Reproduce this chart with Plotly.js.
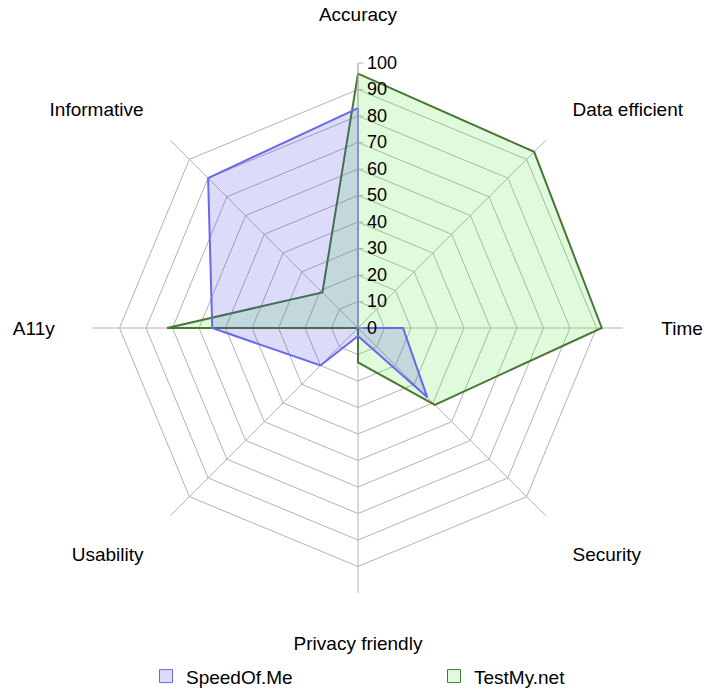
<!DOCTYPE html>
<html>
<head>
<meta charset="utf-8">
<script src="https://cdn.plot.ly/plotly-3.0.1.min.js"></script>
<style>html,body{margin:0;padding:0;background:#fff;}#chart{width:720px;height:695px;}</style>
</head>
<body>
<div id="chart"></div>
<script>
const categories = ["Accuracy", "Data efficient", "Time", "Security", "Privacy friendly", "Usability", "A11y", "Informative"];
const speedOfMe = [83, 0, 17, 37, 3, 20, 55, 80];
const testMyNet = [96, 94, 92, 41, 13, 0, 72, 19];
const seriesNames = ["SpeedOf.Me", "TestMy.net"];
const radialTicks = [0, 10, 20, 30, 40, 50, 60, 70, 80, 90, 100];

const close = a => a.concat([a[0]]);
const cats = close(categories);

const blueLine = "rgb(104,104,236)", blueFill = "rgba(60,60,230,0.18)";
const greenLine = "rgb(74,118,56)", greenFill = "rgba(100,230,80,0.2)";

const traces = [
  {type: "scatterpolar", r: close(testMyNet), theta: cats, mode: "lines", fill: "toself",
   fillcolor: greenFill, line: {color: greenLine, width: 2}, name: seriesNames[1], showlegend: false, hoverinfo: "skip"},
  {type: "scatterpolar", r: close(speedOfMe), theta: cats, mode: "lines", fill: "toself",
   fillcolor: blueFill, line: {color: blueLine, width: 2}, name: seriesNames[0], showlegend: false, hoverinfo: "skip"},
  {type: "scatterpolar", r: [null], theta: [categories[0]], mode: "markers", name: seriesNames[0], legend: "legend",
   marker: {symbol: "square", size: 13, color: "rgb(220,220,250)", line: {color: blueLine, width: 1}}},
  {type: "scatterpolar", r: [null], theta: [categories[0]], mode: "markers", name: seriesNames[1], legend: "legend2",
   marker: {symbol: "square", size: 13, color: "rgb(224,250,220)", line: {color: greenLine, width: 1}}}
];

const legendBase = {orientation: "h", xref: "container", yref: "container", xanchor: "left", y: 0.027, yanchor: "middle",
  itemwidth: 30, bgcolor: "rgba(0,0,0,0)", font: {size: 19, color: "#000"}};

const layout = {
  width: 720, height: 695,
  margin: {l: 93, r: 97, t: 63, b: 102, autoexpand: false},
  paper_bgcolor: "#fff",
  font: {family: "Liberation Sans, Arial, sans-serif", size: 18, color: "#000"},
  showlegend: true,
  legend: Object.assign({}, legendBase, {x: 146 / 720}),
  legend2: Object.assign({}, legendBase, {x: 434 / 720}),
  polar: {
    bgcolor: "rgba(0,0,0,0)",
    gridshape: "linear",
    domain: {x: [0, 1], y: [0, 1]},
    radialaxis: {range: [0, 100], tickvals: radialTicks, ticktext: radialTicks.map(String),
      angle: 90, tickangle: 90, side: "clockwise", showline: true, linecolor: "#b3b3b3", linewidth: 1,
      gridcolor: "#b3b3b3", gridwidth: 1, ticks: "outside", ticklen: 5, tickcolor: "#b3b3b3",
      tickfont: {size: 18, color: "#000"}},
    angularaxis: {rotation: 90, direction: "clockwise", showline: false,
      gridcolor: "#b3b3b3", gridwidth: 1, ticks: "outside", ticklen: 34, tickcolor: "rgba(0,0,0,0)",
      tickfont: {size: 19, color: "#000"}}
  }
};

Plotly.newPlot("chart", traces, layout, {displayModeBar: false, staticPlot: true});
</script>
</body>
</html>
